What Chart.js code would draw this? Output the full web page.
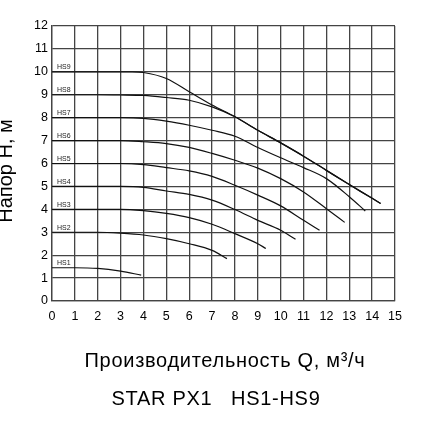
<!DOCTYPE html>
<html>
<head>
<meta charset="utf-8">
<script src="https://cdn.jsdelivr.net/npm/chart.js@4"></script>
<style>
  html, body { margin: 0; padding: 0; background: #fff; }
  #wrap { width: 427px; height: 430px; }
</style>
</head>
<body>
<div id="wrap"><canvas id="myChart" width="427" height="430"></canvas></div>
<script>
// curve names
var seriesNames = ['HS1', 'HS2', 'HS3', 'HS4', 'HS5', 'HS6', 'HS7', 'HS8', 'HS9'];

// flow Q (m3/h) and head H (m), one pair per speed
var hs1Q = [0, 1, 2, 3, 3.9];
var hs1H = [1.45, 1.45, 1.42, 1.3, 1.13];
var hs2Q = [0, 1, 2, 3, 4, 5, 6, 7, 7.65];
var hs2H = [3, 3, 3, 2.96, 2.88, 2.72, 2.5, 2.21, 1.85];
var hs3Q = [0, 1, 2, 3, 4, 5, 6, 7, 8, 9, 9.35];
var hs3H = [4, 4, 4, 4, 3.94, 3.82, 3.64, 3.35, 2.94, 2.5, 2.29];
var hs4Q = [0, 1, 2, 3, 4, 5, 6, 7, 8, 9, 10, 10.65];
var hs4H = [5, 5, 5, 5, 4.96, 4.8, 4.65, 4.4, 3.99, 3.52, 3.09, 2.69];
var hs5Q = [0, 1, 2, 3, 4, 5, 6, 7, 8, 9, 10, 11, 11.7];
var hs5H = [6, 6, 6, 6, 5.95, 5.82, 5.68, 5.44, 5.05, 4.62, 4.15, 3.52, 3.09];
var hs6Q = [0, 1, 2, 3, 4, 5, 6, 7, 8, 9, 10, 11, 12, 12.8];
var hs6H = [7, 7, 7, 7, 6.95, 6.87, 6.7, 6.44, 6.14, 5.8, 5.34, 4.76, 4.03, 3.43];
var hs7Q = [0, 1, 2, 3, 4, 5, 6, 7, 8, 9, 10, 11, 12, 13, 13.7];
var hs7H = [8, 8, 8, 8, 7.97, 7.85, 7.67, 7.45, 7.19, 6.7, 6.25, 5.82, 5.34, 4.55, 3.93];
var hs8Q = [0, 1, 2, 3, 4, 5, 6, 7, 8, 9, 10, 11, 12, 13, 14, 14.37];
var hs8H = [9, 9, 9, 8.99, 8.97, 8.88, 8.76, 8.47, 8.04, 7.45, 6.9, 6.32, 5.7, 5.08, 4.48, 4.25];
var hs9Q = [0, 1, 2, 3, 3.5, 4, 5, 6, 7, 8, 9, 10, 11, 12, 13, 14, 14.37];
var hs9H = [10, 10, 10, 10, 10, 9.97, 9.71, 9.13, 8.55, 8.04, 7.45, 6.9, 6.32, 5.7, 5.08, 4.48, 4.25];

var allQ = [hs1Q, hs2Q, hs3Q, hs4Q, hs5Q, hs6Q, hs7Q, hs8Q, hs9Q];
var allH = [hs1H, hs2H, hs3H, hs4H, hs5H, hs6H, hs7H, hs8H, hs9H];

var xTitle = 'Производительность Q, м³/ч';
var yTitle = 'Напор H, м';
var chartName = 'STAR PX1   HS1-HS9';

var FONT = 'Arial, "Liberation Sans", sans-serif';

function toPoints(qs, hs) {
  var pts = [];
  for (var i = 0; i < qs.length; i++) {
    pts.push({ x: qs[i], y: hs[i] });
  }
  return pts;
}

var datasets = seriesNames.map(function (name, i) {
  return {
    label: name,
    data: toPoints(allQ[i], allH[i]),
    showLine: true,
    borderColor: '#111',
    borderWidth: 1.2,
    pointRadius: 0,
    cubicInterpolationMode: 'monotone',
    fill: false
  };
});

// curve names, axis titles and the caption
var textPlugin = {
  id: 'texts',
  afterDatasetsDraw: function (chart) {
    var ctx = chart.ctx;
    var xs = chart.scales.x, ys = chart.scales.y;
    ctx.save();
    ctx.fillStyle = '#222';
    ctx.font = '7px ' + FONT;
    ctx.textAlign = 'left';
    ctx.textBaseline = 'alphabetic';
    chart.data.datasets.forEach(function (ds) {
      var p = ds.data[0];
      ctx.fillText(ds.label, xs.getPixelForValue(p.x) + 5, ys.getPixelForValue(p.y) - 2.5);
    });
    ctx.restore();
  },
  afterDraw: function (chart) {
    var ctx = chart.ctx;
    ctx.save();
    ctx.fillStyle = '#000';
    ctx.textAlign = 'center';
    ctx.textBaseline = 'middle';
    ctx.letterSpacing = '0.7px';
    ctx.font = '20px ' + FONT;
    ctx.fillText(xTitle, 225, 361);
    ctx.fillText(chartName, 216, 399);
    ctx.letterSpacing = '0px';
    ctx.translate(6, 171);
    ctx.rotate(-Math.PI / 2);
    ctx.font = '20px ' + FONT;
    ctx.fillText(yTitle, 0, 0);
    ctx.restore();
  }
};

var ctx = document.getElementById('myChart');
var myChart = new Chart(ctx, {
  type: 'scatter',
  data: { datasets: datasets },
  plugins: [textPlugin],
  options: {
    responsive: false,
    animation: false,
    layout: { padding: { left: 0, top: 26, right: 32, bottom: 0 } },
    plugins: { legend: { display: false }, tooltip: { enabled: false } },
    scales: {
      x: {
        type: 'linear',
        min: 0,
        max: 15,
        afterFit: function (scale) { scale.height = 129; },
        ticks: { stepSize: 1, padding: 8, color: '#000', font: { family: FONT, size: 12.5 } },
        grid: { color: '#444', lineWidth: 1.3, drawTicks: false },
        border: { color: '#444', width: 1.3 }
      },
      y: {
        type: 'linear',
        min: 0,
        max: 12,
        afterFit: function (scale) { scale.width = 52; },
        ticks: { stepSize: 1, padding: 4, color: '#000', font: { family: FONT, size: 12.5 } },
        grid: { color: '#444', lineWidth: 1.3, drawTicks: false },
        border: { color: '#444', width: 1.3 }
      }
    }
  }
});
</script>
</body>
</html>
